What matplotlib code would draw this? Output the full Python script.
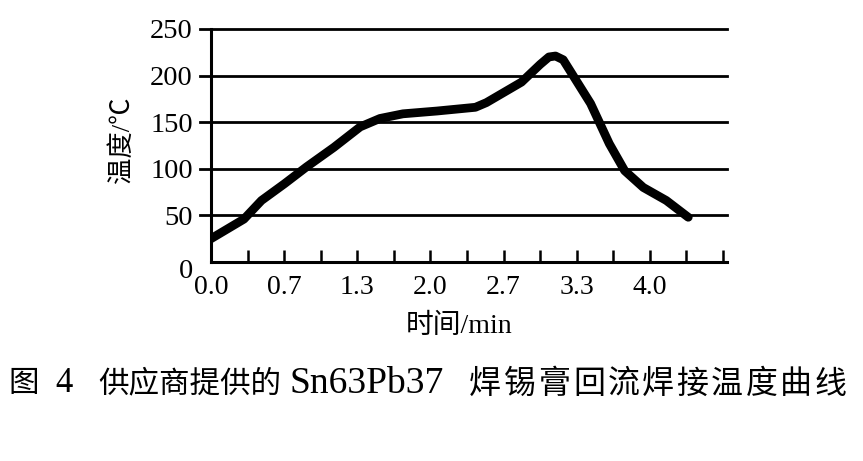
import matplotlib
matplotlib.use("Agg")
import matplotlib.pyplot as plt
import matplotlib.transforms as mtransforms

# Data
time_min = [0.00, 0.30, 0.46, 0.67, 0.87, 1.12, 1.36, 1.54, 1.75, 2.06, 2.41, 2.51,
            2.83, 3.00, 3.08, 3.14, 3.21, 3.46, 3.63, 3.77, 3.94, 4.15, 4.35]
temp_c = [25, 46, 66, 84, 102, 123, 145, 154, 159, 162, 166, 171,
          193, 212, 220, 221, 217, 170, 127, 98, 80, 66, 48]

x_ticks = [k / 3 for k in range(15)]
x_labels = ["0.0", "", "0.7", "", "1.3", "", "2.0", "", "2.7", "", "3.3", "", "4.0", "", ""]
y_ticks = [0, 50, 100, 150, 200, 250]
y_labels = ["0", "50", "100", "150", "200", "250"]

serif = ["Liberation Serif", "Noto Sans CJK SC"]
cjk = ["Noto Sans CJK SC", "Liberation Serif"]

W, H = 863, 461
fig = plt.figure(figsize=(W / 100, H / 100), dpi=100)
L, R, T, B = 211, 727, 29, 262
ax = fig.add_axes([L / W, 1 - B / H, (R - L) / W, (B - T) / H])

ext = (L - 200) / (R - L)
for y in y_ticks[1:]:
    ax.axhline(y, xmin=-ext, xmax=1, color="black", lw=2.0, zorder=1, clip_on=False)

ax.plot(time_min, temp_c, color="black", lw=6.3, solid_joinstyle="round",
        solid_capstyle="round", zorder=3)

ax.set_xlim(0, 14 / 3 * (R - L) / (723 - L))
ax.set_ylim(0, 250)
for s in ["top", "right"]:
    ax.spines[s].set_visible(False)
for s in ["left", "bottom"]:
    ax.spines[s].set_linewidth(2.2)
    ax.spines[s].set_color("black")

ax.set_xticks(x_ticks)
ax.set_xticklabels(x_labels, family=serif, fontsize=20)
ax.tick_params(axis="x", direction="in", length=9, width=1.8, pad=9)
ax.set_yticks(y_ticks)
ax.set_yticklabels(y_labels, family=serif, fontsize=20.5)
ax.tick_params(axis="y", length=0, pad=13)

# shift the "0" label down like the reference
lbl0 = ax.get_yticklabels()[0]
lbl0.set_transform(lbl0.get_transform() + mtransforms.ScaledTranslation(0, -6 / 100, fig.dpi_scale_trans))

ax.set_xlabel("时间/min", family=serif, fontsize=20)
ax.xaxis.set_label_coords((459 - L) / (R - L), -(326 - B) / (B - T), transform=ax.transAxes)
ax.xaxis.label.set_va("center")
ax.set_ylabel("温度/℃", family=serif, fontsize=19)
ax.yaxis.set_label_coords(-(L - 122) / (R - L), (B - 140) / (B - T), transform=ax.transAxes)
ax.yaxis.label.set_va("center")

cy = 1 - 384 / H
fig.text(8 / W, cy, "图", family=cjk, fontsize=22, ha="left", va="center")
fig.text(55 / W, cy, "4", family=serif, fontsize=25, ha="left", va="center")
fig.text(98 / W, cy, "供应商提供的", family=cjk, fontsize=22, ha="left", va="center")
fig.text(289 / W, cy, "Sn63Pb37", family=serif, fontsize=27, ha="left", va="center")
tail = "焊锡膏回流焊接温度曲线"
x0, x1 = 468, 848
step = (x1 - x0) / len(tail)
for i, ch in enumerate(tail):
    fig.text((x0 + step * (i + 0.5)) / W, cy, ch, family=cjk, fontsize=23,
             ha="center", va="center")

fig.savefig("out.png", dpi=100)
